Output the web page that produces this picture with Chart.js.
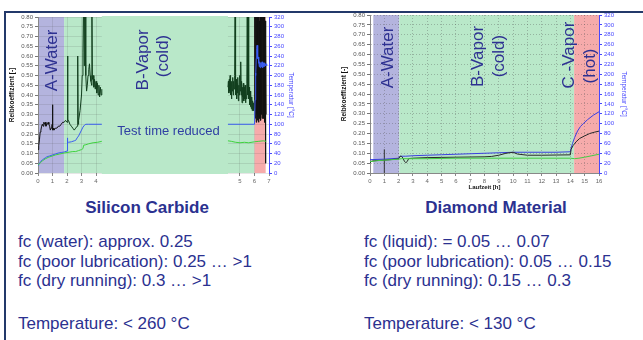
<!DOCTYPE html>
<html>
<head>
<meta charset="utf-8">
<script src="https://cdn.jsdelivr.net/npm/chart.js@4.4.0/dist/chart.umd.min.js"></script>
<style>
  body { margin: 0; width: 643px; height: 340px; background: #fff; position: relative; overflow: hidden;
         font-family: "Liberation Sans", Arial, sans-serif; }
  .frame-top { position: absolute; left: 4px; top: 11px; right: 0; height: 2px; background: #23396a; z-index: 2; }
  .frame-left { position: absolute; left: 4px; top: 11px; bottom: 0; width: 2px; background: #23396a; z-index: 2; }
  #sicChart { position: absolute; left: 6px; top: 8px; }
  #dmChart { position: absolute; left: 338px; top: 8px; }
  .title { position: absolute; width: 200px; text-align: center; font-weight: bold; font-size: 17px;
           line-height: 20px; color: #2b3190; }
  .notes { position: absolute; font-size: 17px; line-height: 19.7px; color: #2b3190; white-space: nowrap; }
</style>
</head>
<body>
<div class="frame-top"></div>
<div class="frame-left"></div>
<canvas id="sicChart" width="291" height="185"></canvas>
<canvas id="dmChart" width="292" height="185"></canvas>

<div class="title" style="left:47px; top:198px;">Silicon Carbide</div>
<div class="title" style="left:396px; top:198px;">Diamond Material</div>
<div class="notes" style="left:18px; top:232px;">fc (water): approx. 0.25<br>fc (poor lubrication): 0.25 … &gt;1<br>fc (dry running): 0.3 … &gt;1</div>
<div class="notes" style="left:18px; top:314px;">Temperature: &lt; 260 °C</div>
<div class="notes" style="left:364px; top:232px;">fc (liquid): = 0.05 … 0.07<br>fc (poor lubrication): 0.05 … 0.15<br>fc (dry running): 0.15 … 0.3</div>
<div class="notes" style="left:364px; top:314px;">Temperature: &lt; 130 °C</div>

<script>
// ---------- shared axis ticks ----------
const frictionTicks = [0, 0.05, 0.1, 0.15, 0.2, 0.25, 0.3, 0.35, 0.4, 0.45, 0.5, 0.55, 0.6, 0.65, 0.7, 0.75, 0.8];
const tempTicks = [0, 20, 40, 60, 80, 100, 120, 140, 160, 180, 200, 220, 240, 260, 280, 300, 320];

// ---------- Silicon Carbide (time axis is cut between the two parts) ----------
const sicTicksX = [0, 1, 2, 3, 4, 5, 6, 7];
const sicBreak = [4.4, 4.17];          // h: end of first part, start of second part
const sicPhases = [0, 1.8, 6.0, 6.77]; // A-Water | B-Vapor | C borders (h)

// null marks the cut
const sicFricT = [0, 0.05, 0.1, 0.15, 0.2, 0.25, 0.3, 0.35, 0.4, 0.45, 0.5, 0.55, 0.6, 0.65, 0.7, 0.75, 0.8, 0.85, 0.9, 0.95, 0.98, 1.0, 1.02, 1.05, 1.1, 1.2, 1.3, 1.4, 1.5, 1.6, 1.7, 1.8, 1.9, 2.0, 2.04, 2.06, 2.1, 2.2, 2.3, 2.4, 2.5, 2.6, 2.7, 2.74, 2.77, 2.8, 2.9, 3.0, 3.05, 3.1, 3.13, 3.16, 3.19, 3.22, 3.25, 3.28, 3.31, 3.35, 3.4, 3.45, 3.5, 3.55, 3.6, 3.65, 3.7, 3.72, 3.75, 3.8, 3.85, 3.9, 3.95, 4.0, 4.05, 4.1, 4.15, 4.2, 4.25, 4.3, 4.35, 4.4,
  null,
  4.17, 4.2, 4.23, 4.26, 4.29, 4.32, 4.35, 4.38, 4.41, 4.44, 4.47, 4.5, 4.53, 4.56, 4.6, 4.63, 4.66, 4.68, 4.71, 4.74, 4.77, 4.8, 4.83, 4.86, 4.89, 4.92, 4.95, 4.98, 5.02, 5.05, 5.08, 5.11, 5.14, 5.17, 5.2, 5.23, 5.26, 5.29, 5.32, 5.35, 5.38, 5.41, 5.44, 5.47, 5.5, 5.53, 5.57, 5.6, 5.63, 5.66, 5.69, 5.72, 5.75, 5.78, 5.81, 5.84, 5.87, 5.9, 5.93, 5.96, 6.0,
  6.02, 6.04, 6.06, 6.08, 6.1, 6.12, 6.14, 6.16, 6.18, 6.2, 6.22, 6.24, 6.26, 6.28, 6.3, 6.32, 6.34, 6.36, 6.38, 6.4, 6.42, 6.44, 6.46, 6.48, 6.5, 6.52, 6.54, 6.56, 6.58, 6.6, 6.62, 6.64, 6.66, 6.68, 6.7, 6.72, 6.74, 6.76, 6.78, 6.8];
const sicFric = [0.12, 0.14, 0.17, 0.21, 0.22, 0.24, 0.25, 0.24, 0.26, 0.25, 0.26, 0.24, 0.25, 0.25, 0.26, 0.25, 0.24, 0.22, 0.23, 0.24, 0.25, 0.35, 0.22, 0.23, 0.22, 0.23, 0.23, 0.24, 0.24, 0.25, 0.26, 0.26, 0.27, 0.26, 0.6, 0.27, 0.27, 0.25, 0.24, 0.23, 0.22, 0.23, 0.24, 0.6, 0.25, 0.27, 0.32, 0.4, 0.5, 0.62, 0.82, 0.8, 0.55, 0.82, 0.7, 0.82, 0.5, 0.42, 0.45, 0.5, 0.53, 0.56, 0.5, 0.47, 0.45, 0.82, 0.48, 0.5, 0.44, 0.48, 0.43, 0.47, 0.41, 0.46, 0.4, 0.45, 0.39, 0.44, 0.4, 0.43,
  null,
  0.44, 0.47, 0.41, 0.48, 0.42, 0.5, 0.4, 0.46, 0.38, 0.47, 0.42, 0.49, 0.4, 0.47, 0.43, 0.5, 0.82, 0.45, 0.4, 0.48, 0.38, 0.46, 0.41, 0.49, 0.37, 0.45, 0.4, 0.5, 0.42, 0.57, 0.4, 0.47, 0.36, 0.44, 0.39, 0.46, 0.37, 0.44, 0.38, 0.45, 0.36, 0.43, 0.38, 0.46, 0.82, 0.4, 0.82, 0.38, 0.44, 0.35, 0.42, 0.34, 0.4, 0.33, 0.39, 0.32, 0.37, 0.33, 0.36, 0.32, 0.34,
  0.8, 0.3, 0.82, 0.28, 0.8, 0.26, 0.82, 0.3, 0.78, 0.27, 0.82, 0.29, 0.8, 0.26, 0.82, 0.3, 0.78, 0.28, 0.82, 0.29, 0.8, 0.27, 0.82, 0.3, 0.79, 0.28, 0.82, 0.3, 0.8, 0.29, 0.82, 0.28, 0.8, 0.3, 0.82, 0.26, 0.78, 0.05, 0.7, 0.3];

const sicTempT = [0, 0.05, 0.1, 0.2, 0.3, 0.4, 0.5, 0.6, 0.8, 1.0, 1.2, 1.4, 1.6, 1.8, 2.0, 2.02, 2.03, 2.06, 2.1, 2.3, 2.5, 2.6, 2.7, 2.8, 2.9, 3.0, 3.1, 3.2, 3.3, 3.5, 4.0, 4.4,
  null,
  4.17, 5.0, 5.9, 6.0, 6.02, 6.04, 6.06, 6.08, 6.1, 6.12, 6.14, 6.16, 6.18, 6.2, 6.22, 6.24, 6.26, 6.28, 6.3, 6.33, 6.36, 6.4, 6.44, 6.48, 6.52, 6.56, 6.6, 6.65, 6.7, 6.75, 6.8, 6.84];
const sicTemp = [16, 18, 20, 24, 27, 29, 31, 33, 35, 37, 39, 41, 42, 43, 45, 45, 72, 62, 63, 64, 66, 67, 72, 76, 82, 88, 94, 98, 100, 100, 100, 100,
  null,
  100, 100, 100, 100, 100, 150, 190, 205, 200, 235, 240, 255, 262, 245, 255, 235, 238, 225, 232, 218, 228, 216, 226, 218, 228, 216, 226, 218, 226, 220, 224, 220];

const sicTemp2T = [0, 0.1, 0.2, 0.3, 0.5, 0.7, 1.0, 1.2, 1.5, 1.8, 2.0, 2.2, 2.4, 2.6, 2.8, 3.0, 3.1, 3.15, 3.3, 3.5, 3.8, 4.1, 4.4,
  null,
  4.17, 4.4, 4.7, 5.0, 5.3, 5.6, 6.0, 6.3, 6.6, 6.8];
const sicTemp2 = [16, 19, 22, 25, 29, 32, 35, 37, 39, 41, 42, 43, 44, 44, 46, 48, 50, 57, 58, 60, 62, 63, 65,
  null,
  66, 65, 63, 62, 63, 62, 64, 65, 66, 65];

// ---------- Diamond Material ----------
const dmTicksX = [0, 1, 2, 3, 4, 5, 6, 7, 8, 9, 10, 11, 12, 13, 14, 15, 16];
const dmPhases = [0.23, 2.05, 14.26, 16]; // A-Water | B-Vapor | C-Vapor borders (h)

const dmFricT = [0, 0.1, 0.3, 0.5, 1.0, 1.5, 2.0, 2.1, 2.2, 2.3, 2.4, 2.5, 2.6, 2.7, 3, 4, 5, 6, 7, 8, 8.5, 9, 9.5, 10, 10.3, 11, 12, 13, 14, 14.05, 14.2, 14.4, 14.65, 15, 15.35, 15.7, 16];
const dmFric = [0.05, 0.06, 0.062, 0.063, 0.065, 0.068, 0.072, 0.085, 0.084, 0.076, 0.06, 0.052, 0.058, 0.073, 0.075, 0.078, 0.079, 0.08, 0.081, 0.082, 0.084, 0.09, 0.1, 0.105, 0.096, 0.09, 0.09, 0.091, 0.092, 0.12, 0.14, 0.158, 0.175, 0.188, 0.2, 0.207, 0.212];

const dmTempT = [0, 1, 2, 2.1, 2.5, 3, 4, 5, 6, 7, 8, 9, 10, 11, 12, 13, 14, 14.05, 14.15, 14.3, 14.5, 14.7, 14.9, 15.2, 15.6, 16];
const dmTemp = [27, 28, 30, 34, 34, 35, 36, 37, 38, 39, 40, 41, 42, 42, 42, 42, 43, 50, 60, 72, 85, 94, 100, 108, 117, 124];

const dmTemp2T = [0, 0.5, 1, 2, 2.2, 3, 4, 6, 8, 10, 12, 14, 14.3, 14.6, 15, 15.5, 16];
const dmTemp2 = [23, 25, 26, 28, 29, 29, 29, 30, 30, 30, 30, 30, 29, 30, 32, 35, 38];

const dmMarkT = [1, 1];
const dmMark = [0, 0.12];

// ---------- helpers ----------
const sicShift = 8.93; // axis units hidden by the cut
const sicAx = t => (t > sicBreak[0] ? t + sicShift : t);

function sicPoints(ts, vs) {
  let second = false;
  return ts.map((t, i) => {
    if (t === null) { second = true; return { x: sicBreak[0] + 0.01, y: null }; }
    return { x: second ? t + sicShift : t, y: vs[i] };
  });
}
const pts = (ts, vs) => ts.map((t, i) => ({ x: t, y: vs[i] }));

const bandColors = ['#b4b4de', '#b9e8c9', '#f6abab'];
const labelColor = '#2e3192';
const tickFont = { family: 'Liberation Sans', size: 6 };

const phasePlugin = {
  id: 'phases',
  beforeDraw(chart, args, opts) {
    const { ctx, chartArea: a, scales: { x } } = chart;
    ctx.save();
    for (let i = 0; i < opts.edges.length - 1; i++) {
      const x0 = x.getPixelForValue(opts.edges[i]);
      const x1 = x.getPixelForValue(opts.edges[i + 1]);
      ctx.fillStyle = bandColors[i];
      ctx.fillRect(x0, a.top, x1 - x0, a.bottom - a.top);
    }
    ctx.restore();
  },
  beforeDatasetsDraw(chart, args, opts) {
    if (!opts.cut) return;
    const { ctx, chartArea: a, scales: { x } } = chart;
    const x0 = x.getPixelForValue(opts.cut[0]);
    const x1 = x.getPixelForValue(opts.cut[1]);
    ctx.save();
    ctx.fillStyle = bandColors[1];
    ctx.fillRect(x0, a.top - 1, x1 - x0, a.bottom - a.top + 2);
    ctx.restore();
  },
  afterDatasetsDraw(chart, args, opts) {
    const { ctx, scales: { x, y } } = chart;
    ctx.save();
    ctx.textAlign = 'center';
    ctx.textBaseline = 'middle';
    opts.labels.forEach(l => {
      ctx.save();
      ctx.translate(x.getPixelForValue(l.x), y.getPixelForValue(l.y));
      if (l.rotate) ctx.rotate(-Math.PI / 2);
      ctx.font = (l.size || 17) + 'px "Liberation Sans", Arial, sans-serif';
      ctx.fillStyle = l.color || labelColor;
      ctx.fillText(l.text, 0, 0);
      ctx.restore();
    });
    ctx.restore();
  }
};

function lineSet(data, color, axis, extra) {
  return Object.assign({
    data: data, borderColor: color, borderWidth: 1, pointRadius: 0,
    tension: 0, spanGaps: false, yAxisID: axis
  }, extra || {});
}

function yAxes(leftWidth, rightWidth, gridDash) {
  return {
    y: {
      min: 0, max: 0.8, position: 'left',
      afterBuildTicks: s => { s.ticks = frictionTicks.map(v => ({ value: v })); },
      afterFit: s => { s.width = leftWidth; },
      ticks: { font: tickFont, color: '#555', padding: 2, autoSkip: false, callback: v => v.toFixed(2) },
      grid: { color: gridDash ? 'rgba(80,80,80,0.35)' : 'rgba(80,80,80,0.14)', tickLength: 3, tickColor: '#777' },
      border: { color: '#888', dash: gridDash || [] },
      title: { display: true, text: 'Reibkoeffizient [-]', color: '#111',
               font: { family: 'Liberation Sans', size: 6.5, weight: 'bold' }, padding: { top: 2, bottom: 0 } }
    },
    y1: {
      min: 0, max: 320, position: 'right',
      afterBuildTicks: s => { s.ticks = tempTicks.map(v => ({ value: v })); },
      afterFit: s => { s.width = rightWidth; },
      ticks: { font: tickFont, color: '#4747ff', padding: 2, autoSkip: false },
      grid: { drawOnChartArea: false, tickLength: 3, tickColor: '#4747ff' },
      border: { color: '#4747ff' },
      title: { display: true, text: 'Temperatur [°C]', color: '#4747ff',
               font: { family: 'Liberation Sans', size: 6.5 }, padding: { top: 2, bottom: 0 } }
    }
  };
}

// ---------- Silicon Carbide chart ----------
const sicGreen = '#123f1e';
new Chart(document.getElementById('sicChart'), {
  type: 'line',
  data: {
    datasets: [
      lineSet(sicPoints(sicTemp2T, sicTemp2), '#3fd23f', 'y1'),
      lineSet(sicPoints(sicTempT, sicTemp), '#3a5cf0', 'y1'),
      lineSet(sicPoints(sicFricT, sicFric), '#111', 'y', {
        segment: {
          borderColor: c => (c.p0.parsed.x >= sicPhases[1] && c.p1.parsed.x <= sicAx(sicPhases[2])) ? sicGreen : '#111'
        }
      })
    ]
  },
  options: {
    responsive: false,
    animation: false,
    layout: { padding: { top: 9, left: 0, right: 0, bottom: 0 } },
    plugins: {
      legend: { display: false },
      tooltip: { enabled: false },
      phases: {
        edges: sicPhases.map(sicAx),
        cut: [sicBreak[0], sicBreak[1] + sicShift],
        labels: [
          { text: 'A-Water', x: 1.0, y: 0.577, rotate: true },
          { text: 'B-Vapor', x: 7.24, y: 0.58, rotate: true },
          { text: '(cold)', x: 8.62, y: 0.6, rotate: true },
          { text: 'Test time reduced', x: 9.0, y: 0.212, size: 13, color: '#2f3fa3' }
        ]
      }
    },
    scales: Object.assign({
      x: {
        type: 'linear', min: 0, max: sicAx(7),
        afterBuildTicks: s => { s.ticks = sicTicksX.map(v => ({ value: sicAx(v) })); },
        afterFit: s => { s.height = 20; },
        ticks: { font: tickFont, color: '#666', padding: 2, maxRotation: 0, autoSkip: false,
                 callback: (v, i) => sicTicksX[i] },
        grid: { color: 'rgba(80,80,80,0.14)', tickLength: 3, tickColor: '#888' },
        border: { display: false }
      }
    }, yAxes(32, 28, null))
  },
  plugins: [phasePlugin]
});

// ---------- Diamond Material chart ----------
new Chart(document.getElementById('dmChart'), {
  type: 'line',
  data: {
    datasets: [
      lineSet(pts(dmTemp2T, dmTemp2), '#44cc44', 'y1'),
      lineSet(pts(dmFricT, dmFric), '#2a2a2a', 'y'),
      lineSet(pts(dmTempT, dmTemp), '#3b3fe0', 'y1'),
      lineSet(pts(dmMarkT, dmMark), '#333', 'y')
    ]
  },
  options: {
    responsive: false,
    animation: false,
    layout: { padding: { top: 7, left: 0, right: 0, bottom: 0 } },
    plugins: {
      legend: { display: false },
      tooltip: { enabled: false },
      phases: {
        edges: dmPhases,
        cut: null,
        labels: [
          { text: 'A-Water', x: 1.26, y: 0.585, rotate: true },
          { text: 'B-Vapor', x: 7.54, y: 0.59, rotate: true },
          { text: '(cold)', x: 9.0, y: 0.592, rotate: true },
          { text: 'C -Vapor', x: 13.96, y: 0.597, rotate: true },
          { text: '(hot)', x: 15.42, y: 0.542, rotate: true }
        ]
      }
    },
    scales: Object.assign({
      x: {
        type: 'linear', min: 0, max: 16,
        afterBuildTicks: s => { s.ticks = dmTicksX.map(v => ({ value: v })); },
        afterFit: s => { s.height = 20; },
        ticks: { font: tickFont, color: '#666', padding: 2, maxRotation: 0, autoSkip: false },
        grid: { color: 'rgba(80,80,80,0.35)', tickLength: 3, tickColor: '#888' },
        border: { color: '#888', dash: [1, 2] },
        title: { display: true, text: 'Laufzeit [h]', color: '#111',
                 font: { family: 'Liberation Sans', size: 6, weight: 'bold' }, padding: { top: 0, bottom: 2 } }
      }
    }, yAxes(32, 31, [1, 2]))
  },
  plugins: [phasePlugin]
});
</script>
</body>
</html>
